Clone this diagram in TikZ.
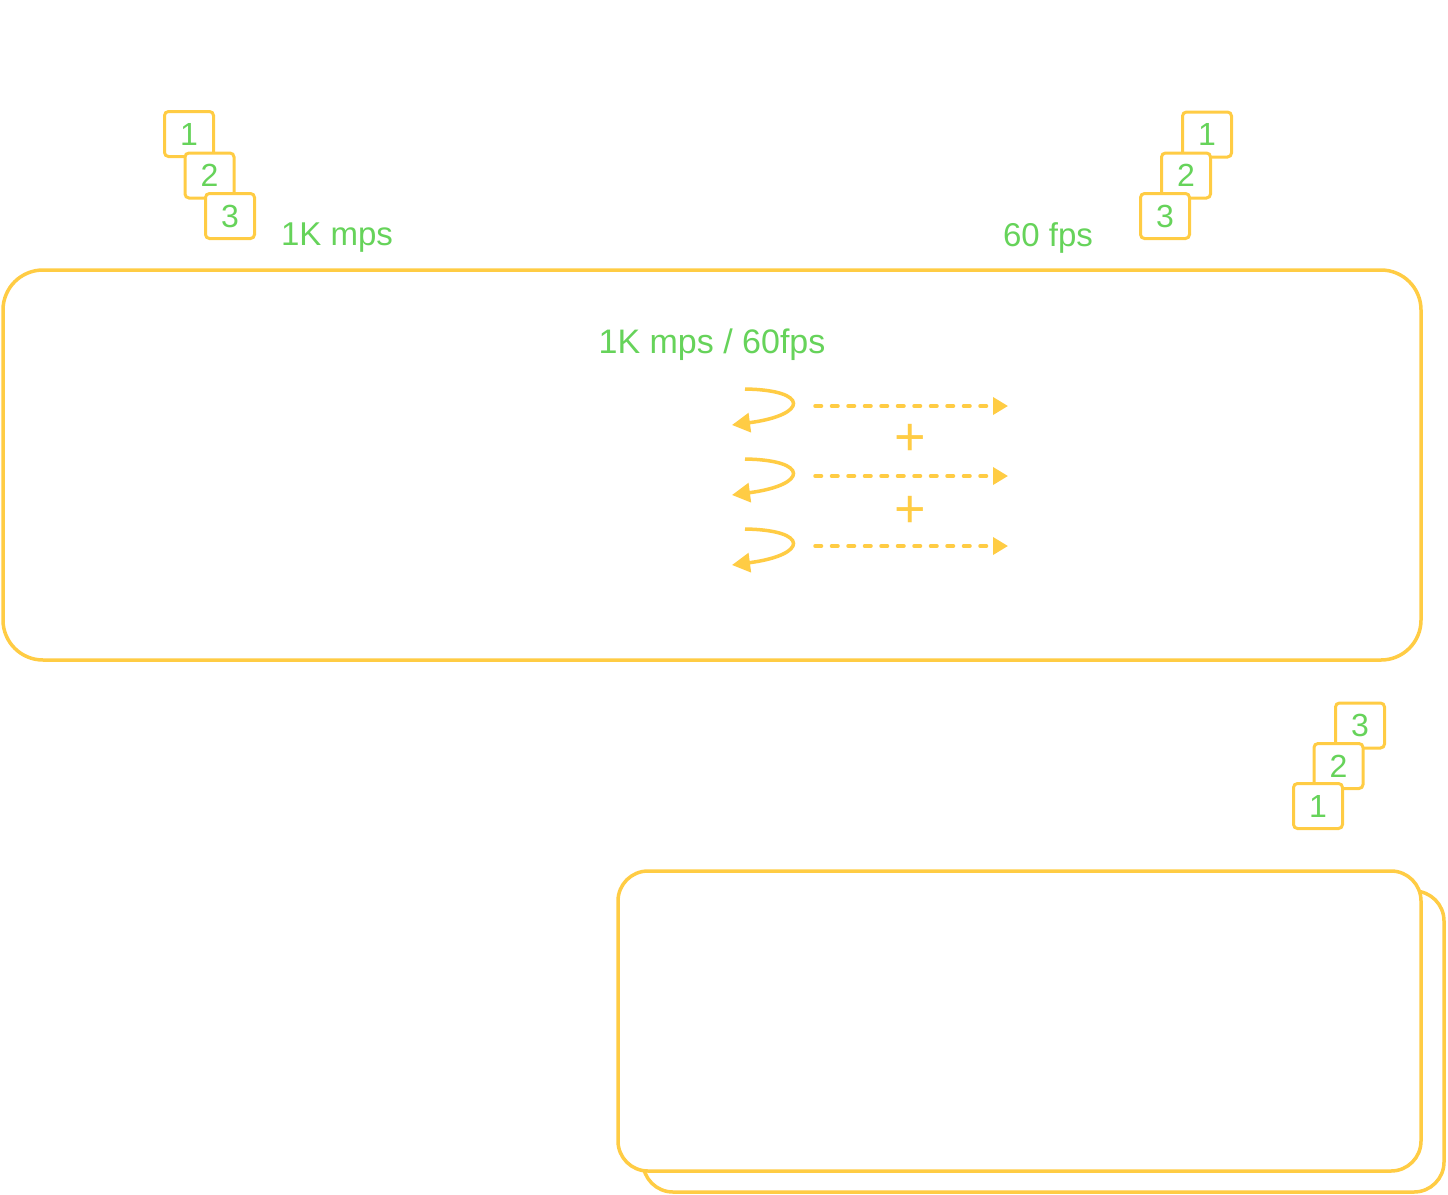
\documentclass[tikz,border=0pt]{standalone}
\usepackage{fontspec}
\setmainfont{Liberation Sans}
\usetikzlibrary{arrows.meta}
\definecolor{ylw}{HTML}{FFCC44}
\definecolor{grn}{HTML}{66D35A}
\tikzset{
  card/.style={draw=ylw, line width=3pt, fill=white, rounded corners=4pt, minimum width=49pt, minimum height=45pt, inner sep=0pt, text=grn, font=\fontsize{32}{32}\selectfont},
  panel/.style={draw=ylw, line width=3.5pt, fill=white, inner sep=0pt},
  lbl/.style={text=grn, font=\fontsize{33}{33}\selectfont, inner sep=0pt},
  loop/.style={draw=ylw, line width=3.5pt, -{Triangle[length=18pt,width=19pt]}},
  flow/.style={draw=ylw, line width=3.5pt, line cap=round, dash pattern=on 6.5pt off 10pt, -{Triangle[length=15pt,width=17pt,line cap=butt]}},
  plus/.style={text=ylw, font=\fontsize{54}{54}\selectfont, inner sep=0pt}
}
\begin{document}
\begin{tikzpicture}[x=1pt,y=-1pt]
\useasboundingbox (0,0) rectangle (1448,1194);
% top-left stack
\node[card] (tl1) at (189,134) {1};
\node[card] (tl2) at (209.5,175.5) {2};
\node[card] (tl3) at (230,216) {3};
% top-right stack
\node[card] (tr1) at (1207,134.5) {1};
\node[card] (tr2) at (1186,175.5) {2};
\node[card] (tr3) at (1165,216) {3};
% labels
\node[lbl] (l1) at (337,238) {1K mps};
\node[lbl] (l2) at (1048,238) {60 fps};
% main panel
\node[panel, rounded corners=40pt, minimum width=1418pt, minimum height=390pt] (main) at (712,465) {};
\node[lbl, font=\fontsize{34}{34}\selectfont] (l3) at (712,345) {1K mps / 60fps};
% loops and flows
\foreach \i/\y in {1/405,2/475,3/545}{
  \coordinate (ls\i) at (745,\y-16);
  \coordinate (le\i) at (732,\y+20);
  \draw[loop] (ls\i) .. controls (810,\y-15) and (808,\y+10) .. (le\i);
  \coordinate (fs\i) at (815,\y+1);
  \coordinate (fe\i) at (1008,\y+1);
  \draw[flow] (fs\i) -- (fe\i);
}
\node[plus] (p1) at (910,440) {+};
\node[plus] (p2) at (910,512) {+};
% bottom-right stack
\node[card] (br3) at (1360,725.5) {3};
\node[card] (br2) at (1338.5,766) {2};
\node[card] (br1) at (1318,806) {1};
% bottom panels
\node[panel, rounded corners=30pt, minimum width=801pt, minimum height=301pt] (back) at (1043.5,1041.5) {};
\node[panel, rounded corners=30pt, minimum width=803pt, minimum height=300pt] (front) at (1019.5,1021) {};
\end{tikzpicture}
\end{document}
